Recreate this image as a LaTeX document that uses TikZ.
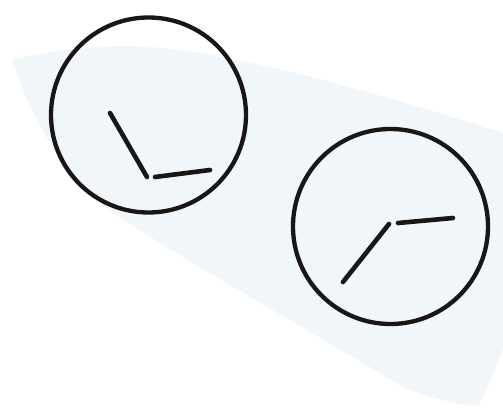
\documentclass[tikz,border=0pt]{standalone}
\definecolor{blobblue}{RGB}{240,246,249}
\definecolor{ink}{RGB}{26,22,22}
\tikzset{
  clockface/.style={circle, draw=ink, line width=4.3pt, minimum size=195pt, inner sep=0pt},
  hand/.style={draw=ink, line width=4.6pt, line cap=round},
}
\begin{document}
\begin{tikzpicture}[x=1pt,y=-1pt]
\useasboundingbox (0,0) rectangle (503,409);
\clip (0,0) rectangle (503,409);
\fill[blobblue] (12,60) .. controls (60,48) and (110,44) .. (150,47)
  .. controls (250,55) and (400,100) .. (510,135) -- (510,330)
  .. controls (495,370) and (485,395) .. (478,406)
  .. controls (455,404) and (430,398) .. (405,388)
  .. controls (300,325) and (180,258) .. (112,212)
  .. controls (70,180) and (35,130) .. (12,60) -- cycle;
% left clock
\node[clockface] (c1) at (148.5,115) {};
\coordinate (c1a) at (110,113);
\coordinate (c1b) at (147,177);
\coordinate (c1c) at (155,177);
\coordinate (c1d) at (210,170);
\draw[hand] (c1a) -- (c1b);
\draw[hand] (c1c) -- (c1d);
% right clock
\node[clockface] (c2) at (390.5,226.5) {};
\coordinate (c2a) at (343,282);
\coordinate (c2b) at (389,224);
\coordinate (c2c) at (398,223);
\coordinate (c2d) at (453,218);
\draw[hand] (c2a) -- (c2b);
\draw[hand] (c2c) -- (c2d);
\end{tikzpicture}
\end{document}
